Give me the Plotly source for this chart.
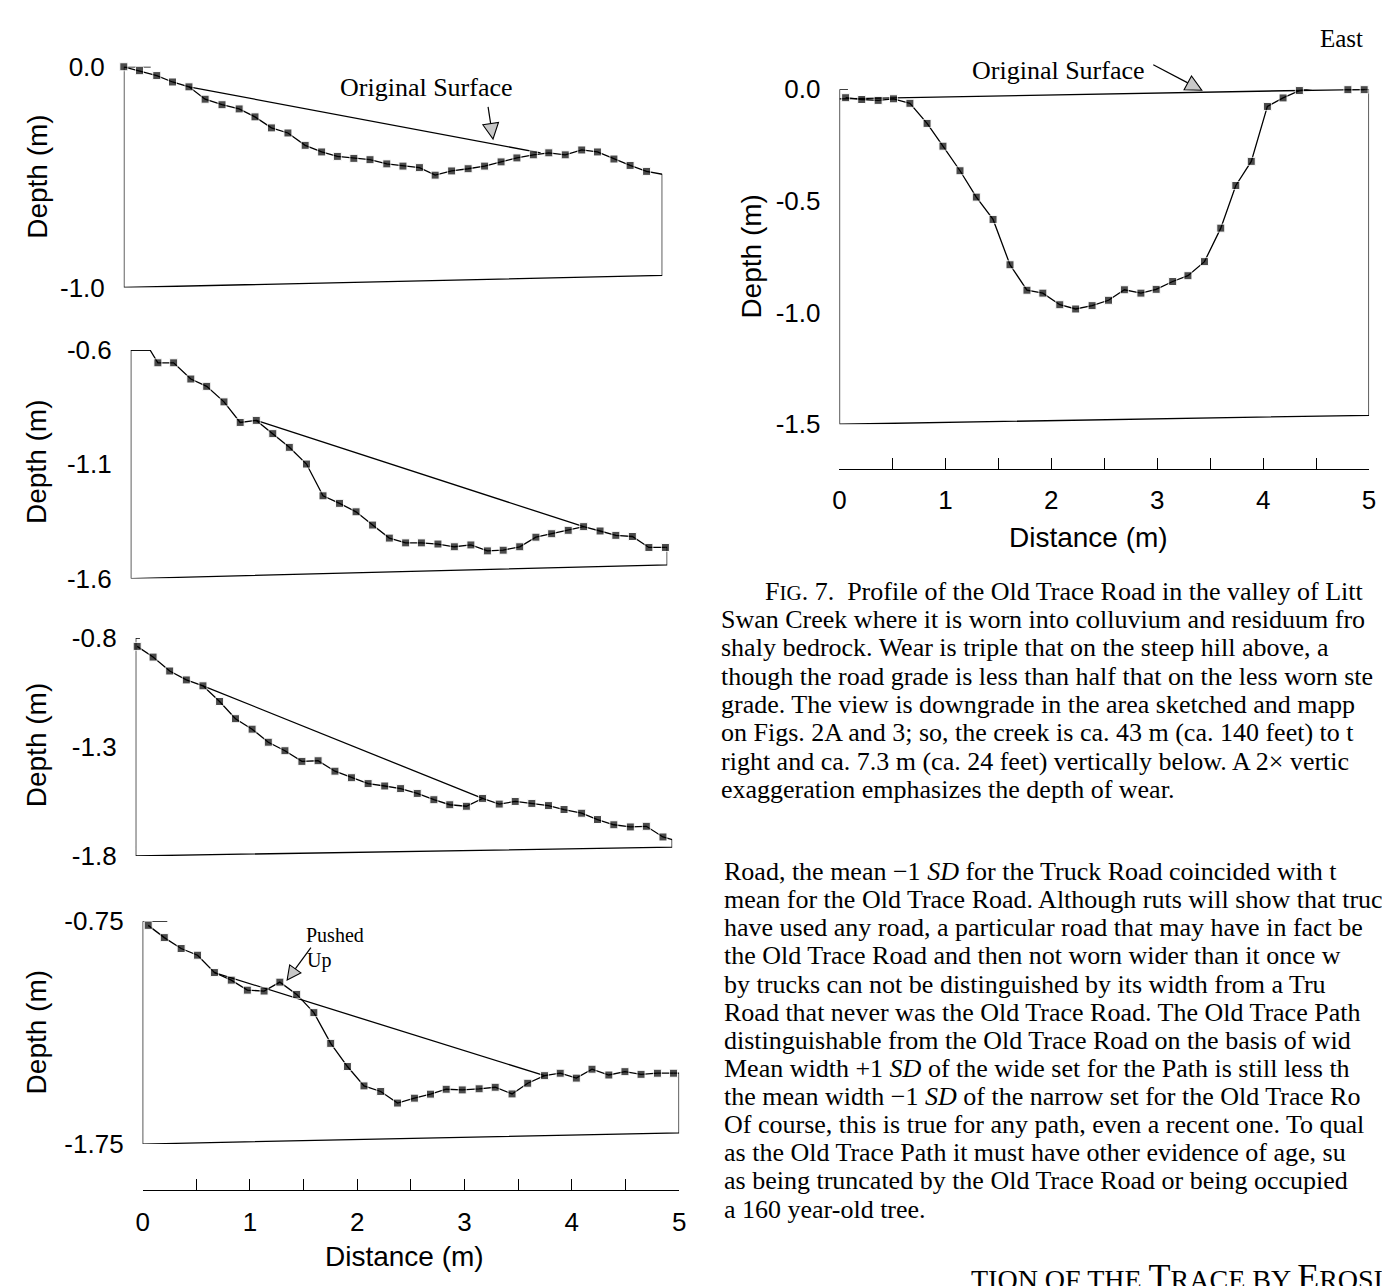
import plotly.graph_objects as go

W, H = 1382, 1286


def px(x):
    return x / W


def py(y):
    return 1 - y / H


# ---------------- data (distance m, depth m) ----------------
# Panel A (top left)
a_dist = [0.0, 0.146, 0.306, 0.452, 0.605, 0.755, 0.912, 1.071, 1.218, 1.371, 1.524, 1.684,
          1.837, 1.983, 2.136, 2.286, 2.442, 2.592, 2.745, 2.891, 3.044, 3.197, 3.35, 3.503,
          3.65, 3.803, 3.946, 4.099, 4.252, 4.398, 4.551, 4.701, 4.854, 5.0]
a_depth = [0.0, -0.018, -0.04, -0.069, -0.091, -0.147, -0.172, -0.191, -0.227, -0.277, -0.30,
           -0.356, -0.386, -0.406, -0.415, -0.421, -0.44, -0.45, -0.457, -0.491, -0.472, -0.462,
           -0.45, -0.431, -0.413, -0.399, -0.39, -0.399, -0.377, -0.386, -0.418, -0.447, -0.474,
           -0.487]
a_surf_dist = [0.605, 3.87]
a_surf_depth = [-0.091, -0.39]

# Panel B
b_dist = [0.0, 0.18, 0.253, 0.40, 0.56, 0.708, 0.869, 1.02, 1.17, 1.324, 1.478, 1.638, 1.792,
          1.946, 2.10, 2.254, 2.41, 2.562, 2.709, 2.863, 3.016, 3.17, 3.324, 3.471, 3.625, 3.776,
          3.923, 4.077, 4.221, 4.374, 4.521, 4.675, 4.829, 4.983]
b_depth = [-0.6, -0.6, -0.656, -0.656, -0.727, -0.759, -0.827, -0.917, -0.908, -0.966, -1.026,
           -1.099, -1.238, -1.271, -1.308, -1.366, -1.423, -1.444, -1.444, -1.449, -1.461, -1.453,
           -1.479, -1.476, -1.461, -1.419, -1.404, -1.389, -1.373, -1.392, -1.411, -1.416, -1.464,
           -1.464]
b_surf_dist = [1.17, 4.221]
b_surf_depth = [-0.908, -1.373]

# Panel C
c_dist = [0.014, 0.162, 0.317, 0.472, 0.627, 0.782, 0.93, 1.085, 1.236, 1.391, 1.549, 1.70,
          1.857, 2.011, 2.166, 2.321, 2.469, 2.624, 2.779, 2.927, 3.082, 3.233, 3.388, 3.537,
          3.692, 3.847, 3.992, 4.156, 4.304, 4.456, 4.61, 4.759, 4.914, 5.0]
c_depth = [-0.838, -0.887, -0.951, -0.992, -1.019, -1.091, -1.17, -1.218, -1.278, -1.317, -1.366,
           -1.363, -1.411, -1.441, -1.468, -1.479, -1.491, -1.513, -1.542, -1.565, -1.572, -1.536,
           -1.562, -1.55, -1.559, -1.569, -1.587, -1.604, -1.633, -1.657, -1.667, -1.664, -1.713,
           -1.725]
c_surf_dist = [0.627, 3.233]
c_surf_depth = [-1.019, -1.536]

# Panel D (bottom left)
d_dist = [0.052, 0.202, 0.359, 0.512, 0.669, 0.826, 0.976, 1.132, 1.279, 1.436, 1.596, 1.753,
          1.909, 2.063, 2.219, 2.376, 2.533, 2.683, 2.829, 2.979, 3.136, 3.286, 3.443, 3.589,
          3.746, 3.892, 4.042, 4.188, 4.345, 4.495, 4.645, 4.798, 4.948]
d_depth = [-0.768, -0.823, -0.872, -0.902, -0.98, -1.014, -1.059, -1.063, -1.023, -1.078, -1.16,
           -1.298, -1.402, -1.489, -1.514, -1.566, -1.544, -1.526, -1.504, -1.507, -1.502, -1.495,
           -1.525, -1.477, -1.443, -1.432, -1.454, -1.414, -1.44, -1.425, -1.437, -1.432, -1.432]
d_surf_dist = [0.669, 3.746]
d_surf_depth = [-0.98, -1.443]

# Panel E (Fig. 7, right)
e_dist = [0.058, 0.21, 0.365, 0.51, 0.665, 0.827, 0.977, 1.138, 1.292, 1.45, 1.61, 1.77, 1.92,
          2.08, 2.23, 2.385, 2.54, 2.69, 2.846, 2.99, 3.146, 3.29, 3.446, 3.6, 3.742, 3.888, 4.04,
          4.188, 4.342, 4.492, 4.646, 4.8, 4.954]
e_depth = [-0.038, -0.046, -0.05, -0.043, -0.063, -0.153, -0.255, -0.365, -0.483, -0.583, -0.786,
           -0.90, -0.913, -0.965, -0.984, -0.969, -0.945, -0.898, -0.913, -0.896, -0.861, -0.835,
           -0.772, -0.622, -0.431, -0.323, -0.077, -0.039, -0.006, 0.006, 0.014, -0.002, -0.002]
e_surf_dist = [0.0, 5.0]
e_surf_depth = [-0.043, 0.0]

# which profile points carry a square marker
a_marked = [True] * 33 + [False]
b_marked = [False, False] + [True] * 32
c_marked = [True] * 33 + [False]
d_marked = [True] * 33
e_marked = [True] * 33

# axes: y range, y tick values/labels, pixel boxes (left, right, top, bottom)
panels = [
    dict(dist=a_dist, depth=a_depth, marked=a_marked, sd=a_surf_dist, sz=a_surf_depth,
         yr=(-1.0, 0.0), tv=[0.0, -1.0], tt=['0.0', '-1.0'], box=(118, 662, 53, 279),
         tick=0.25, tilt=0.055),
    dict(dist=b_dist, depth=b_depth, marked=b_marked, sd=b_surf_dist, sz=b_surf_depth,
         yr=(-1.6, -0.6), tv=[-0.6, -1.1, -1.6], tt=['-0.6', '-1.1', '-1.6'],
         box=(125, 667, 343, 577), tick=0.18, tilt=0.06),
    dict(dist=c_dist, depth=c_depth, marked=c_marked, sd=c_surf_dist, sz=c_surf_depth,
         yr=(-1.8, -0.8), tv=[-0.8, -1.3, -1.8], tt=['-0.8', '-1.3', '-1.8'],
         box=(130, 672, 638, 861), tick=0.04, tilt=0.04),
    dict(dist=d_dist, depth=d_depth, marked=d_marked, sd=d_surf_dist, sz=d_surf_depth,
         yr=(-1.75, -0.75), tv=[-0.75, -1.75], tt=['-0.75', '-1.75'],
         box=(137, 679, 928, 1156), tick=0.23, tilt=0.05),
    dict(dist=e_dist, depth=e_depth, marked=e_marked, sd=e_surf_dist, sz=e_surf_depth,
         yr=(-1.5, 0.0), tv=[0.0, -0.5, -1.0, -1.5], tt=['0.0', '-0.5', '-1.0', '-1.5'],
         box=(841, 1376, 76, 419), tick=0.08, tilt=0.04),
]
x_axis_line_px = {4: 1203, 5: 465}
x_label_standoff = {4: 9, 5: 7}

SANS = "Liberation Sans, Arial, sans-serif"
SERIF = "Liberation Serif, Times New Roman, serif"
LW = 1.3

fig = go.Figure()
layout = dict(width=W, height=H, margin=dict(l=0, r=0, t=0, b=0),
              paper_bgcolor='white', plot_bgcolor='rgba(0,0,0,0)', showlegend=False)

for i, p in enumerate(panels, start=1):
    xa = 'x' if i == 1 else f'x{i}'
    ya = 'y' if i == 1 else f'y{i}'
    lo, hi = p['yr']
    end_x, end_y = p['dist'][-1], p['depth'][-1]
    right_top = end_y if i != 5 else hi + 0.05
    # frame: short top tick, left side, (slightly skewed scan) bottom, right side
    fig.add_trace(go.Scatter(
        x=[p['tick'], 0, 0, 5, 5, end_x],
        y=[hi, hi, lo, lo + p['tilt'], right_top, end_y],
        mode='lines', line=dict(color='black', width=LW), xaxis=xa, yaxis=ya,
        hoverinfo='skip', cliponaxis=False))
    # original surface
    fig.add_trace(go.Scatter(
        x=p['sd'], y=p['sz'], mode='lines', line=dict(color='black', width=LW),
        xaxis=xa, yaxis=ya, hoverinfo='skip', cliponaxis=False))
    # profile
    fig.add_trace(go.Scatter(
        x=p['dist'], y=p['depth'], mode='lines+markers',
        line=dict(color='black', width=LW),
        marker=dict(symbol='square', color='black',
                    size=[8 if m else 0 for m in p['marked']]),
        xaxis=xa, yaxis=ya, hoverinfo='skip', cliponaxis=False))

    l, r, t, b = p['box']
    xkey = 'xaxis' if i == 1 else f'xaxis{i}'
    ykey = 'yaxis' if i == 1 else f'yaxis{i}'
    xdef = dict(domain=[px(l), px(r)], range=[0, 5], showgrid=False, zeroline=False,
                fixedrange=True)
    if i in x_axis_line_px:
        xdef.update(anchor='free', position=py(x_axis_line_px[i]), showline=True,
                    linecolor='black', linewidth=LW, ticks='inside', ticklen=11,
                    tickwidth=1.2, tickcolor='black', tickvals=[0, 1, 2, 3, 4, 5],
                    minor=dict(tickvals=[0.5, 1.5, 2.5, 3.5, 4.5], ticks='inside',
                               ticklen=11, tickwidth=1.2, tickcolor='black'),
                    tickfont=dict(family=SANS, size=26, color='black'),
                    ticklabelstandoff=x_label_standoff[i])
    else:
        xdef.update(visible=False, anchor=ya)
    layout[xkey] = xdef
    layout[ykey] = dict(domain=[py(b), py(t)], range=[lo, hi], anchor=xa, showgrid=False,
                        zeroline=False, showline=False, ticks='', tickvals=p['tv'],
                        ticktext=p['tt'], tickfont=dict(family=SANS, size=26, color='black'),
                        ticklabelstandoff=18, fixedrange=True)

fig.update_layout(**layout)

ann = []


def text(x, y, s, size, family=SANS, angle=0, xanchor='center'):
    ann.append(dict(x=px(x), y=py(y), xref='paper', yref='paper', text=s, showarrow=False,
                    font=dict(family=family, size=size, color='black'), textangle=angle,
                    xanchor=xanchor, yanchor='middle'))


for yc in [166, 458, 748, 1042]:
    text(30, yc, 'Depth (m)', 28, angle=-90)
text(752, 247, 'Depth (m)', 28, angle=-90)
text(402, 1271, 'Distance (m)', 28)
text(1093, 535, 'Distance (m)', 28)

text(424, 74, 'Original Surface', 26, SERIF)
text(1062, 57, 'Original Surface', 26, SERIF)
text(1348, 24, 'East', 25, SERIF)
text(331, 942, 'Pushed', 20, SERIF)
text(315, 968, 'Up', 20, SERIF)

caption = [
    "F<span style='font-size:21px'>IG</span>. 7.  Profile of the Old Trace Road in the valley of Litt",
    "Swan Creek where it is worn into colluvium and residuum fro",
    "shaly bedrock. Wear is triple that on the steep hill above, a",
    "though the road grade is less than half that on the less worn ste",
    "grade. The view is downgrade in the area sketched and mapp",
    "on Figs. 2A and 3; so, the creek is ca. 43 m (ca. 140 feet) to t",
    "right and ca. 7.3 m (ca. 24 feet) vertically below. A 2\u00d7 vertic",
    "exaggeration emphasizes the depth of wear.",
]
for k, s in enumerate(caption):
    text(764 if k == 0 else 719, 590 + k * 29, s, 26, SERIF, xanchor='left')

body = [
    "Road, the mean \u22121 <i>SD</i> for the Truck Road coincided with t",
    "mean for the Old Trace Road. Although ruts will show that truc",
    "have used any road, a particular road that may have in fact be",
    "the Old Trace Road and then not worn wider than it once w",
    "by trucks can not be distinguished by its width from a Tru",
    "Road that never was the Old Trace Road. The Old Trace Path",
    "distinguishable from the Old Trace Road on the basis of wid",
    "Mean width +1 <i>SD</i> of the wide set for the Path is still less th",
    "the mean width \u22121 <i>SD</i> of the narrow set for the Old Trace Ro",
    "Of course, this is true for any path, even a recent one. To qual",
    "as the Old Trace Path it must have other evidence of age, su",
    "as being truncated by the Old Trace Road or being occupied",
    "a 160 year-old tree.",
]
for k, s in enumerate(body):
    text(722, 877 + k * 28.8, s, 26, SERIF, xanchor='left')

# section heading, cut by the bottom edge of the page as in the scan
text(972, 1292, "<span style='font-size:28px'>TION OF THE </span>T"
     "<span style='font-size:28px'>RACE BY </span>E<span style='font-size:28px'>ROSI</span>",
     36, SERIF, xanchor='left')

fig.update_layout(annotations=ann)

# arrow markers (leader line + grey triangle head)
shapes = []


def arrow(x0, y0, tipx, tipy, L=16, w=8):
    dx, dy = tipx - x0, tipy - y0
    n = (dx * dx + dy * dy) ** 0.5
    ux, uy = dx / n, dy / n
    bx, by = tipx - L * ux, tipy - L * uy
    shapes.append(dict(type='line', xref='paper', yref='paper', x0=px(x0), y0=py(y0),
                       x1=px(bx), y1=py(by), line=dict(color='black', width=1.2)))
    p1 = (bx - w * uy, by + w * ux)
    p2 = (bx + w * uy, by - w * ux)
    path = (f"M {px(p1[0])},{py(p1[1])} L {px(p2[0])},{py(p2[1])} "
            f"L {px(tipx)},{py(tipy)} Z")
    shapes.append(dict(type='path', xref='paper', yref='paper', path=path,
                       fillcolor='#c8c8c8', line=dict(color='black', width=1.1)))


arrow(486, 94, 491, 127)
arrow(1158, 51, 1207, 77)
arrow(307, 955, 283, 988, L=14, w=7)
fig.update_layout(shapes=shapes)

fig.write_html("out.html")
